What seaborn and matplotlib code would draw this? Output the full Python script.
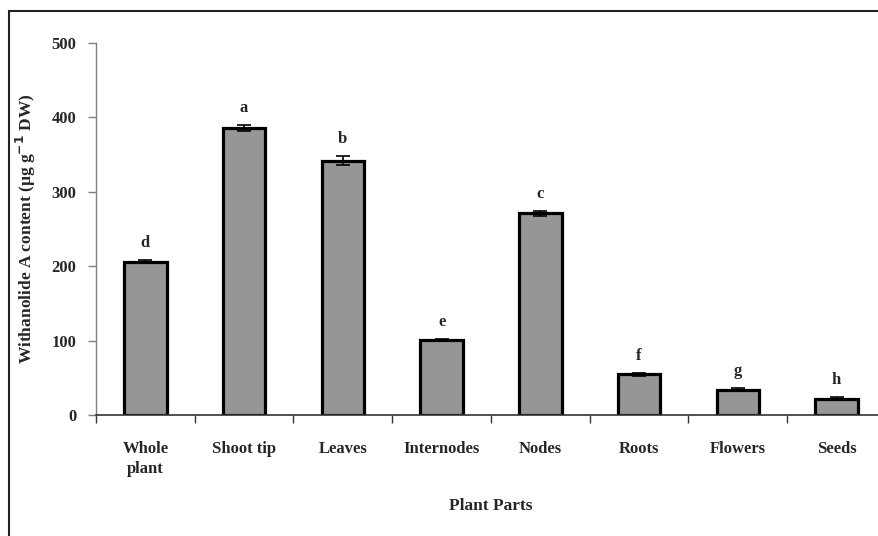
import matplotlib
matplotlib.use("Agg")
import matplotlib.pyplot as plt
import seaborn as sns
import pandas as pd
from matplotlib.patches import Rectangle

categories = ["Whole\nplant", "Shoot tip", "Leaves", "Internodes", "Nodes", "Roots", "Flowers", "Seeds"]
values = [206, 386, 342, 101, 271, 55, 34, 22]
errors = [2, 4, 6, 1.5, 3, 2, 2, 2]
letters = ["d", "a", "b", "e", "c", "f", "g", "h"]
yticks = [0, 100, 200, 300, 400, 500]

sns.set_style("white")
plt.rcParams['font.family'] = ['Liberation Serif', 'DejaVu Serif']
plt.rcParams['font.weight'] = 'bold'

W, H = 879, 536
fig = plt.figure(figsize=(W / 100, H / 100), dpi=100)
ax = fig.add_axes([96 / W, 121 / H, 790 / W, 372 / H])

df = pd.DataFrame({"part": categories, "value": values})
sns.barplot(data=df, x="part", y="value", ax=ax, color="#969696", saturation=1,
            edgecolor="black", linewidth=2.3, width=0.43, errorbar=None)

xs = ax.get_xticks()
ax.errorbar(xs, values, yerr=errors, fmt="none", ecolor="black", elinewidth=1.2,
            capsize=5, capthick=1.2, zorder=5)
for x, v, e, l in zip(xs, values, errors, letters):
    ax.text(x, v + e + 12, l, ha="center", va="bottom", fontsize=12, fontweight="bold")

ax.set_xlim(-0.5, len(categories) - 0.5)
ax.set_ylim(0, 500)
ax.set_yticks(yticks)
ax.set_yticklabels([str(t) for t in yticks], fontsize=12, fontweight="bold")
ax.set_xticks(xs)
ax.set_xticklabels(categories, fontsize=12, fontweight="bold", linespacing=1.3)
ax.set_xticks([i - 0.5 for i in range(len(categories) + 1)], minor=True)
ax.tick_params(axis="x", which="major", length=0, pad=19)
ax.tick_params(axis="x", which="minor", length=6, width=1, color="#333333", direction="out", bottom=True)
ax.tick_params(axis="y", which="major", length=6, width=1, color="#808080", direction="out", left=True, pad=8)

for s in ["top", "right"]:
    ax.spines[s].set_visible(False)
ax.spines["left"].set_color("#808080")
ax.spines["left"].set_linewidth(1)
ax.spines["bottom"].set_color("#333333")
ax.spines["bottom"].set_linewidth(1.2)

ax.set_xlabel("Plant Parts", fontsize=12.5, fontweight="bold", labelpad=15)
ax.set_ylabel(r"Withanolide A content (µg g$^{\mathbf{-1}}$ DW)", fontsize=12.5, fontweight="bold", labelpad=10)

fig.patches.append(Rectangle((9 / W, -0.05), 1.2, 1 - 11 / H + 0.05, transform=fig.transFigure,
                             fill=False, edgecolor="#222222", linewidth=1.5))

fig.savefig("out.png", dpi=100)
